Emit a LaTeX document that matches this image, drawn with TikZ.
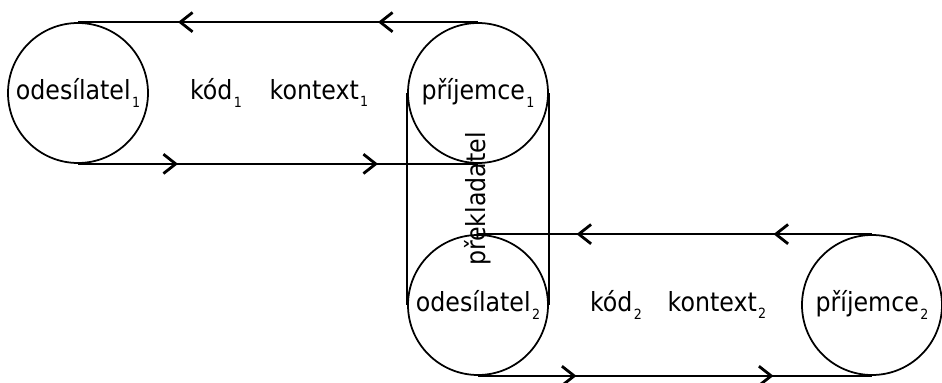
\documentclass[tikz,border=0pt]{standalone}
\usepackage{fontspec}
\setmainfont{DejaVu Sans Condensed}
\usepackage{tikz}
\usetikzlibrary{arrows.meta,decorations.markings}

\newcommand{\ix}[1]{\kern0.8pt\raisebox{-0.55ex}{\fontsize{8}{8}\selectfont #1}}

\tikzset{
  role/.style={circle, draw, line width=1pt, minimum size=2.8cm, inner sep=0pt},
  flow/.style={line width=1.2pt, postaction={decorate},
    decoration={markings,
      mark=at position 0.25 with {\arrow{Straight Barb[length=7pt,width=11pt,line width=1.6pt]}},
      mark=at position 0.75 with {\arrow{Straight Barb[length=7pt,width=11pt,line width=1.6pt]}}}}
}

\begin{document}
\begin{tikzpicture}[font=\fontsize{15}{17}\selectfont]
\useasboundingbox (0,0) rectangle (18.84,7.64);
% first exchange
\node[role] (send1) at (1.56,5.78) {odesílatel\ix{1}};
\node[role] (recv1) at (9.56,5.78) {příjemce\ix{1}};
\node (code1) at (4.32,5.78) {kód\ix{1}};
\node (ctx1) at (6.38,5.78) {kontext\ix{1}};
% second exchange
\node[role] (send2) at (9.56,1.54) {odesílatel\ix{2}};
\node[role] (recv2) at (17.44,1.54) {příjemce\ix{2}};
\node (code2) at (12.32,1.54) {kód\ix{2}};
\node (ctx2) at (14.34,1.54) {kontext\ix{2}};
% translator between them
\draw[line width=1pt] (recv1.west) -- (send2.west);
\draw[line width=1pt] (recv1.east) -- (send2.east);
\node[rotate=90] (transl) at (9.56,3.66) {překladatel};
% loops
\draw[flow] (recv1.north) -- (send1.north);
\draw[flow] (send1.south) -- (recv1.south);
\draw[flow] (recv2.north) -- (send2.north);
\draw[flow] (send2.south) -- (recv2.south);
\end{tikzpicture}
\end{document}
